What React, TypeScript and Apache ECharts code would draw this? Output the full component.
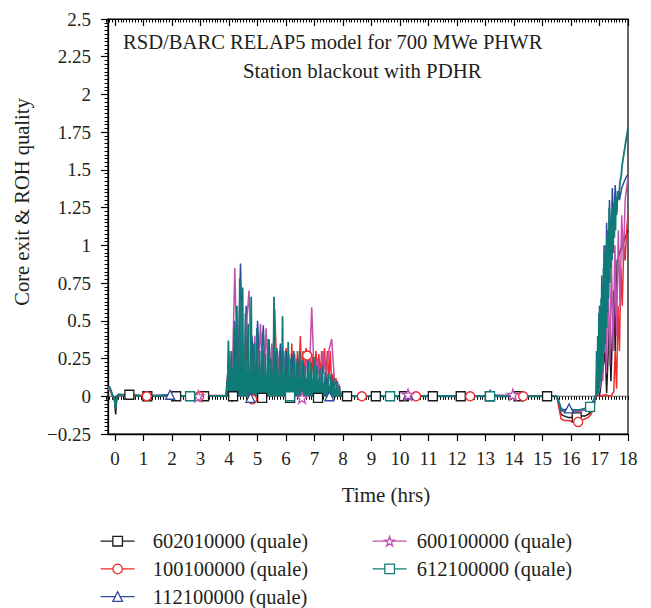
import React, { useEffect, useRef } from 'react';
import * as echarts from 'echarts';

const FONT = '"Liberation Serif", "Times New Roman", serif';
const TXT = '#231f20';

const seriesNames = [
  '602010000 (quale)',
  '100100000 (quale)',
  '112100000 (quale)',
  '600100000 (quale)',
  '612100000 (quale)',
];
const seriesColors = ['#1a1a1a', '#ee2a2a', '#2c4a9c', '#c24fae', '#0f7b76'];
const STAR = 'path://M50,2 L61,36 L97,36 L68,57 L79,92 L50,71 L21,92 L32,57 L3,36 L39,36 Z';
const seriesSymbols = ['rect', 'circle', 'triangle', STAR, 'rect'];

const titleLine1 = 'RSD/BARC RELAP5 model for 700 MWe PHWR';
const titleLine2 = 'Station blackout with PDHR';
const xName = 'Time (hrs)';
const yName = 'Core exit & ROH quality';

// ---- time bases ----
const tLead = [-0.25, -0.2, -0.15, -0.08, -0.02, 0.02, 0.06, 0.12, 0.25, 0.5, 1.0, 2.0, 3.0, 3.85];
const tCoarse = [3.9, 4.0, 4.1, 4.2, 4.3, 4.4, 4.5, 4.6, 4.7, 4.8, 4.9, 5.0, 5.1, 5.2, 5.3, 5.4, 5.5, 5.6, 5.7, 5.8, 5.9, 6.0, 6.1, 6.2, 6.3, 6.4, 6.5, 6.6, 6.7, 6.8, 6.9, 7.0, 7.1, 7.2, 7.3, 7.4, 7.5, 7.6, 7.7, 7.8, 7.9, 8.0];
const tCoarseEarly = [3.9, 4.0, 4.1, 4.2, 4.3, 4.4, 4.5, 4.6, 4.7, 4.8, 4.9, 5.0, 5.1, 5.2, 5.3, 5.4, 5.5, 5.6, 5.7, 5.8, 5.9, 6.0, 6.1];
const tDense = [
  3.9, 3.925, 3.95, 3.975,
  4.0, 4.025, 4.05, 4.075, 4.1, 4.125, 4.15, 4.175, 4.2, 4.225, 4.25, 4.275, 4.3, 4.325, 4.35, 4.375,
  4.4, 4.425, 4.45, 4.475, 4.5, 4.525, 4.55, 4.575, 4.6, 4.625, 4.65, 4.675, 4.7, 4.725, 4.75, 4.775,
  4.8, 4.825, 4.85, 4.875, 4.9, 4.925, 4.95, 4.975,
  5.0, 5.025, 5.05, 5.075, 5.1, 5.125, 5.15, 5.175, 5.2, 5.225, 5.25, 5.275, 5.3, 5.325, 5.35, 5.375,
  5.4, 5.425, 5.45, 5.475, 5.5, 5.525, 5.55, 5.575, 5.6, 5.625, 5.65, 5.675, 5.7, 5.725, 5.75, 5.775,
  5.8, 5.825, 5.85, 5.875, 5.9, 5.925, 5.95, 5.975,
  6.0, 6.025, 6.05, 6.075, 6.1, 6.125, 6.15, 6.175, 6.2, 6.225, 6.25, 6.275, 6.3, 6.325, 6.35, 6.375,
  6.4, 6.425, 6.45, 6.475, 6.5, 6.525, 6.55, 6.575, 6.6, 6.625, 6.65, 6.675, 6.7, 6.725, 6.75, 6.775,
  6.8, 6.825, 6.85, 6.875, 6.9, 6.925, 6.95, 6.975,
  7.0, 7.025, 7.05, 7.075, 7.1, 7.125, 7.15, 7.175, 7.2, 7.225, 7.25, 7.275, 7.3, 7.325, 7.35, 7.375,
  7.4, 7.425, 7.45, 7.475, 7.5, 7.525, 7.55, 7.575, 7.6, 7.625, 7.65, 7.675, 7.7, 7.725, 7.75, 7.775,
  7.8, 7.825, 7.85, 7.875, 7.9, 7.925, 7.95, 7.975,
  8.0,
];
const tCalm = [8.1, 9, 10, 11, 12, 13, 14, 15, 15.5];
const tDip = [15.52, 15.58, 15.65, 15.75, 15.9, 16.1, 16.3, 16.5, 16.6, 16.7, 16.8, 16.85];

// ---- 602010000 (black) ----
const blackLead = [0.05, 0.06, 0.04, 0.0, -0.03, -0.12, 0.0, 0.012, 0.01, 0.005, 0.003, 0.003, 0.003, 0.003];
const blackActive = [0, 0.25, 0.0, 0.4, 0.02, 0.5, 0.0, 0.35, 0.01, 0.3, 0.0, 0.3, 0.02, 0.25, 0.0, 0.25, 0.02, 0.3, 0.0, 0.22, 0.02, 0.2, 0.0, 0.22, 0.02, 0.2, 0.0, 0.18, 0.02, 0.2, 0.0, 0.15, 0.01, 0.15, 0.0, 0.12, 0.01, 0.1, -0.01, 0.05, 0.0, 0.0];
const blackCalm = [0, 0, 0, 0, 0, 0, 0, 0, 0];
const blackDip = [0, -0.06, -0.12, -0.13, -0.14, -0.14, -0.13, -0.13, -0.12, -0.1, -0.04, 0.0];
const blackRise = [[16.88, 0], [17.0, 0.0], [17.2, 0.3], [17.25, 0.02], [17.35, 0.5], [17.4, 0.1], [17.5, 0.7], [17.55, 0.3], [17.62, 0.9], [17.7, 0.95], [17.8, 1.0], [17.9, 1.05], [18.0, 1.1]];
const blackMarks = [[0.5, 0.01], [1.13, 0.0], [2.14, 0], [3.12, 0], [4.14, 0], [5.16, -0.01], [6.14, -0.01], [7.12, -0.01], [8.14, 0], [9.15, 0], [10.14, 0], [11.15, 0], [12.13, 0], [13.15, 0], [14.16, 0], [15.16, 0], [16.2, -0.14]];

// ---- 100100000 (red) ----
const redLead = [0.04, 0.05, 0.03, 0.0, -0.02, -0.07, 0.0, 0.01, 0.005, 0.005, 0.005, 0.005, 0.005, 0.005];
const redActiveEarly = [0, 0.25, -0.04, 0.3, 0.0, 0.35, 0.02, 0.4, 0.0, 0.3, -0.02, 0.35, 0.01, 0.3, 0.02, 0.25, 0.0, 0.58, 0.02, 0.3, 0.01, 0.32, 0.03];
const redActiveLate = [[6.15, 0.05], [6.2, 0.35], [6.25, 0.06], [6.3, 0.28], [6.35, 0.08], [6.4, 0.3], [6.45, 0.1], [6.5, 0.4], [6.55, 0.1], [6.6, 0.3], [6.65, 0.12], [6.7, 0.32], [6.8, 0.12], [6.85, 0.3], [6.9, 0.14], [6.95, 0.28], [7.0, 0.12], [7.05, 0.3], [7.1, 0.14], [7.15, 0.28], [7.2, 0.12], [7.25, 0.3], [7.3, 0.15], [7.35, 0.32], [7.4, 0.12], [7.45, 0.3], [7.5, 0.1], [7.55, 0.3], [7.6, 0.08], [7.65, 0.15], [7.7, 0.05], [7.75, 0.12], [7.8, 0.03], [7.85, 0.08], [7.9, 0.02], [7.95, 0.0]];
const redCalm = [0.002, 0, 0, 0, 0, 0, 0, 0, 0];
const redDip = [0, -0.08, -0.15, -0.16, -0.16, -0.17, -0.16, -0.15, -0.14, -0.12, -0.08, -0.02];
const redRise = [[16.88, 0.0], [17.0, 0.0], [17.2, 0.01], [17.4, 0.0], [17.5, 0.03], [17.55, 0.3], [17.6, 0.05], [17.65, 0.6], [17.7, 0.3], [17.75, 0.85], [17.8, 0.6], [17.85, 1.0], [17.9, 0.9], [17.95, 1.1], [18.0, 1.2]];
const redMarks = [[1.11, 0.0], [2.95, 0.0], [4.81, -0.02], [6.74, 0.27], [8.66, 0], [10.56, 0], [12.46, 0], [14.32, 0], [16.25, -0.17]];

// ---- 112100000 (blue) ----
const blueLead = [0.05, 0.06, 0.03, 0.0, -0.02, -0.08, 0.0, 0.01, 0.01, 0.005, 0.003, 0.003, 0.003, 0.003];
const blueActive = [0, 0.3, 0.02, 0.5, 0.03, 0.88, 0.03, 0.6, 0.0, 0.4, 0.02, 0.5, 0.03, 0.47, 0.0, 0.38, 0.03, 0.3, 0.0, 0.35, 0.02, 0.3, 0.0, 0.28, 0.02, 0.25, 0.0, 0.22, 0.02, 0.2, 0.0, 0.2, 0.01, 0.18, 0.0, 0.15, 0.01, 0.1, 0.0, 0.05, 0, 0];
const blueCalm = [0, 0, 0, 0, 0, 0, 0, 0, 0];
const blueDip = [0, -0.04, -0.08, -0.09, -0.08, -0.09, -0.1, -0.09, -0.08, -0.06, -0.02, 0.0];
const blueRise = [[16.88, 0], [16.92, 0.3], [16.96, 0.02], [17.0, 0.6], [17.04, 0.1], [17.08, 0.8], [17.12, 0.2], [17.16, 1.0], [17.2, 0.4], [17.25, 1.15], [17.3, 0.6], [17.35, 1.3], [17.4, 0.9], [17.45, 1.38], [17.5, 1.1], [17.55, 1.4], [17.6, 1.2], [17.65, 1.36], [17.7, 1.3], [17.78, 1.38], [17.86, 1.42], [17.93, 1.45], [18.0, 1.47]];
const blueMarks = [[1.93, 0.01], [4.75, -0.01], [7.52, 0.0], [10.28, 0.01], [13.16, 0.01], [15.93, -0.08]];

// ---- 600100000 (magenta) ----
const magLead = [0.05, 0.05, 0.03, 0.0, -0.02, -0.07, 0.0, 0.01, 0.01, 0.005, 0.003, 0.003, 0.003, 0.003];
const magActive = [0, 0.3, 0.02, 0.85, 0.03, 0.65, 0.0, 0.45, 0.7, 0.0, 0.4, 0.02, 0.48, 0.0, 0.45, 0.02, 0.35, 0.0, 0.3, 0.02, 0.3, 0.0, 0.28, 0.02, 0.25, 0.0, 0.25, 0.04, 0.25, 0.06, 0.59, 0.06, 0.25, 0.1, 0.3, 0.12, 0.3, 0.38, 0.1, 0.1, 0.02, 0];
const magCalm = [0, 0, 0, 0, 0, 0, 0, 0, 0];
const magDip = [0, -0.05, -0.09, -0.1, -0.1, -0.1, -0.1, -0.09, -0.09, -0.08, -0.04, 0.0];
const magRise = [[16.95, 0], [17.0, 0.5], [17.04, 0.05], [17.08, 0.6], [17.12, 0.1], [17.18, 0.7], [17.24, 0.15], [17.3, 0.8], [17.36, 0.2], [17.42, 0.9], [17.48, 0.3], [17.54, 1.0], [17.6, 0.4], [17.66, 1.1], [17.72, 0.6], [17.78, 1.2], [17.84, 0.9], [17.9, 1.3], [17.95, 1.38], [18.0, 1.45]];
const magMarks = [[2.92, 0.0], [6.56, -0.01], [10.28, 0.01], [13.96, 0.01]];

// ---- 612100000 (teal) ----
const tealLead = [0.06, 0.065, 0.04, 0.0, -0.02, -0.08, 0.0, 0.012, 0.01, 0.005, 0.003, 0.003, 0.003, 0.003];
const tealActive = [
  0, 0.10, 0, 0.37,
  0, 0.16, 0, 0.30, 0, 0.18, 0, 0.45, 0, 0.20, 0, 0.60, 0, 0.22, 0, 0.78,
  0, 0.20, 0, 0.72, 0, 0.18, 0, 0.55, 0, 0.17, 0, 0.48, 0, 0.16, 0, 0.66,
  0, 0.15, 0, 0.35, 0, 0.16, 0, 0.45,
  0, 0.15, 0, 0.30, 0, 0.14, 0, 0.42, 0, 0.15, 0, 0.28, 0, 0.14, 0, 0.38,
  0, 0.13, 0, 0.25, 0, 0.15, 0, 0.66, 0, 0.14, 0, 0.32, 0, 0.13, 0, 0.26,
  0, 0.14, 0, 0.53, 0, 0.13, 0, 0.30,
  0, 0.14, 0, 0.36, 0, 0.13, 0, 0.25, 0, 0.12, 0, 0.30, 0, 0.13, 0, 0.22,
  0, 0.12, 0, 0.30, 0, 0.12, 0, 0.24, 0, 0.11, 0, 0.20, 0, 0.12, 0, 0.28,
  0, 0.11, 0, 0.22, 0, 0.11, 0, 0.26,
  0, 0.10, 0, 0.20, 0, 0.10, 0, 0.18, 0, 0.09, 0, 0.20, 0, 0.09, 0, 0.16,
  0, 0.08, 0, 0.15, 0, 0.07, 0, 0.14, 0, 0.06, 0, 0.12, 0, 0.05, 0, 0.10,
  0, 0.04, 0, 0.07, 0, 0.02, 0, 0.03,
  0,
];
const tealCalm = [0, 0, 0, 0, 0, 0, 0, 0, 0];
const tealDip = [0, -0.04, -0.09, -0.1, -0.1, -0.09, -0.09, -0.08, -0.08, -0.07, -0.03, 0.0];
const tealRise = [[16.88, 0], [16.9, 0.3], [16.92, 0.0], [16.94, 0.4], [16.96, 0.02], [16.98, 0.55], [17.0, 0.05], [17.02, 0.6], [17.04, 0.1], [17.06, 0.65], [17.08, 0.15], [17.1, 0.75], [17.12, 0.2], [17.14, 0.85], [17.16, 0.3], [17.18, 0.95], [17.2, 0.35], [17.22, 1.0], [17.24, 0.45], [17.26, 1.05], [17.28, 0.55], [17.3, 1.1], [17.32, 0.65], [17.34, 1.25], [17.36, 0.75], [17.38, 1.15], [17.4, 0.85], [17.42, 1.2], [17.44, 0.9], [17.46, 1.25], [17.48, 0.95], [17.5, 1.28], [17.52, 1.05], [17.54, 1.3], [17.56, 1.1], [17.58, 1.32], [17.6, 1.22], [17.64, 1.36], [17.68, 1.32], [17.72, 1.42], [17.76, 1.46], [17.8, 1.54], [17.85, 1.6], [17.9, 1.66], [17.95, 1.72], [18.0, 1.78]];
const tealMarks = [[2.63, 0.0], [6.14, 0.0], [9.65, 0], [13.16, 0], [16.67, -0.07]];

const zeroLine = [[-0.25, 0], [18, 0]];

function zip(t: number[], v: number[]): number[][] {
  return t.map((x, i) => [x, v[i]]);
}

function buildData(parts: number[][][], marks: number[][]) {
  const pts: { value: number[]; mark: boolean }[] = [];
  parts.forEach((p) => p.forEach((v) => pts.push({ value: v, mark: false })));
  marks.forEach((m) => pts.push({ value: m, mark: true }));
  pts.sort((a, b) => a.value[0] - b.value[0]);
  return pts.map((p) => (p.mark ? { value: p.value } : { value: p.value, symbol: 'none' }));
}

const seriesData = [
  buildData([zip(tLead, blackLead), zip(tCoarse, blackActive), zip(tCalm, blackCalm), zip(tDip, blackDip), blackRise], blackMarks),
  buildData([zip(tLead, redLead), zip(tCoarseEarly, redActiveEarly), redActiveLate, zip(tCalm, redCalm), zip(tDip, redDip), redRise], redMarks),
  buildData([zip(tLead, blueLead), zip(tCoarse, blueActive), zip(tCalm, blueCalm), zip(tDip, blueDip), blueRise], blueMarks),
  buildData([zip(tLead, magLead), zip(tCoarse, magActive), zip(tCalm, magCalm), zip(tDip, magDip), magRise], magMarks),
  buildData([zip(tLead, tealLead), zip(tDense, tealActive), zip(tCalm, tealCalm), zip(tDip, tealDip), tealRise], tealMarks),
];

const lineWidths = [1.5, 1.5, 1.5, 1.5, 1.8];

// legend placement: [left, top, text left padding]
const legendSlots = [
  [100, 530.7, 13],
  [100, 558.4, 13],
  [100, 586.1, 13],
  [372, 530.7, 5],
  [372, 558.4, 5],
];

export default function App() {
  const ref = useRef<HTMLDivElement>(null);

  useEffect(() => {
    document.body.style.margin = '0';
    if (!ref.current) return;
    const chart = echarts.init(ref.current, null, { renderer: 'svg' });

    const legends = seriesNames.map((name, i) => ({
      orient: 'horizontal',
      left: legendSlots[i][0],
      top: legendSlots[i][1],
      padding: 0,
      itemWidth: 34,
      itemHeight: 12,
      selectedMode: false,
      data: [
        {
          name,
          itemStyle: { color: '#fff', borderColor: seriesColors[i], borderWidth: 1.3 },
          lineStyle: { color: seriesColors[i], width: 1.3 },
        },
      ],
      textStyle: { fontFamily: FONT, fontSize: 20.5, color: TXT, lineHeight: 20, padding: [0, 0, 0, legendSlots[i][2]] },
    }));

    const minorX = (pos: 'top' | 'bottom') => ({
      type: 'value',
      gridIndex: 1,
      min: -0.3,
      max: 18,
      interval: 0.1,
      position: pos,
      axisLine: { show: false },
      axisTick: { show: true, inside: pos === 'top', length: 3.5, lineStyle: { color: '#000', width: 1 } },
      axisLabel: { show: false },
      splitLine: { show: false },
    });

    const yFmt = (v: number) => (v === 0 ? '0' : String(v).replace('-', '\u2212'));

    chart.setOption({
      animation: false,
      backgroundColor: '#fff',
      grid: [
        { left: 108, right: 23, top: 19, bottom: 174, show: true, borderColor: '#000', borderWidth: 1.2, backgroundColor: 'transparent' },
        { left: 106.575, right: 23, top: 19, bottom: 174 },
      ],
      xAxis: [
        {
          type: 'value',
          gridIndex: 0,
          min: -0.25,
          max: 18,
          splitNumber: 18,
          position: 'bottom',
          axisLine: { show: true, onZero: false, lineStyle: { color: '#000', width: 1.3 } },
          axisTick: { show: true, length: 7, lineStyle: { color: '#000', width: 1.2 } },
          axisLabel: {
            showMinLabel: false,
            margin: 15,
            fontFamily: FONT,
            fontSize: 19,
            color: TXT,
            formatter: (v: number) => (Number.isInteger(v) ? String(v) : ''),
          },
          splitLine: { show: false },
        },
        {
          type: 'value',
          gridIndex: 0,
          min: -0.25,
          max: 18,
          splitNumber: 18,
          position: 'top',
          axisLine: { show: true, onZero: false, lineStyle: { color: '#000', width: 1.2 } },
          axisTick: { show: true, inside: true, length: 7, lineStyle: { color: '#000', width: 1.2 } },
          axisLabel: { show: false },
          splitLine: { show: false },
        },
        minorX('bottom'),
        minorX('top'),
      ],
      yAxis: [
        {
          type: 'value',
          gridIndex: 0,
          min: -0.25,
          max: 2.5,
          interval: 0.25,
          axisLine: { show: true, onZero: false, lineStyle: { color: '#000', width: 1.3 } },
          axisTick: { show: true, length: 7, lineStyle: { color: '#000', width: 1.2 } },
          minorTick: { show: true, splitNumber: 10, length: 3.5, lineStyle: { color: '#000', width: 1 } },
          axisLabel: { margin: 17, fontFamily: FONT, fontSize: 19, color: TXT, formatter: yFmt },
          splitLine: { show: false },
        },
        {
          type: 'value',
          gridIndex: 1,
          min: -0.25,
          max: 2.5,
          show: false,
        },
      ],
      legend: legends,
      graphic: [
        { type: 'text', left: 123, top: 31, silent: true, style: { text: titleLine1, fontFamily: FONT, fontSize: 20.6, fill: TXT } },
        { type: 'text', left: 243, top: 60, silent: true, style: { text: titleLine2, fontFamily: FONT, fontSize: 20.8, fill: TXT } },
        { type: 'text', x: 22, y: 202, rotation: Math.PI / 2, silent: true, style: { text: yName, fontFamily: FONT, fontSize: 20.5, fill: TXT, align: 'center', verticalAlign: 'middle' } },
        { type: 'text', x: 386, y: 495, silent: true, style: { text: xName, fontFamily: FONT, fontSize: 21, fill: TXT, align: 'center', verticalAlign: 'middle' } },
      ],
      series: [
        {
          type: 'line',
          name: 'zero',
          xAxisIndex: 0,
          yAxisIndex: 0,
          data: zeroLine,
          symbol: 'none',
          silent: true,
          lineStyle: { color: '#555', width: 1.1 },
          emphasis: { disabled: true },
        },
        ...seriesNames.map((name, i) => ({
          type: 'line',
          name,
          xAxisIndex: 0,
          yAxisIndex: 0,
          data: seriesData[i],
          symbol: seriesSymbols[i],
          symbolSize: i === 3 ? 11 : 9,
          showSymbol: true,
          showAllSymbol: true,
          silent: true,
          emphasis: { disabled: true },
          lineStyle: { color: seriesColors[i], width: lineWidths[i] },
          itemStyle: { color: '#fff', borderColor: seriesColors[i], borderWidth: 1.3 },
        })),
      ],
    });

    return () => chart.dispose();
  }, []);

  return <div ref={ref} style={{ width: 651, height: 608 }} />;
}
